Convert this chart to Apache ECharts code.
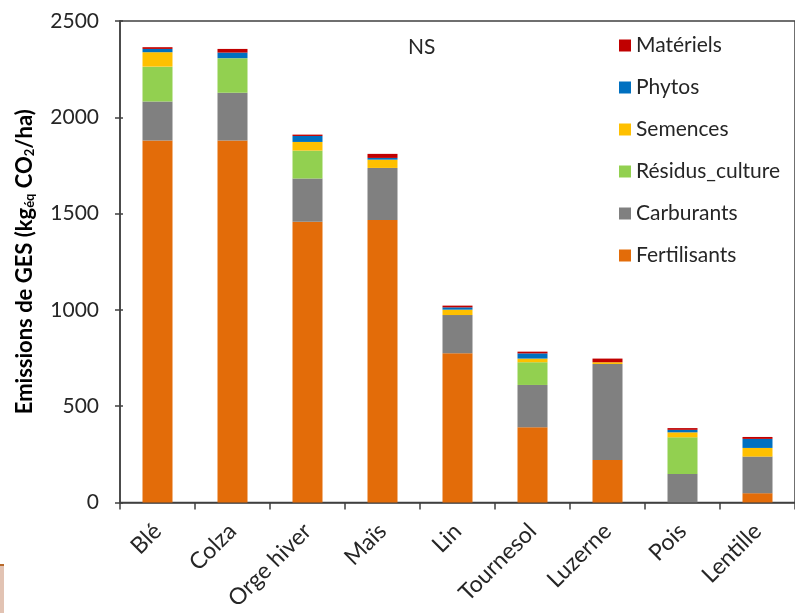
<!DOCTYPE html>
<html>
<head>
<meta charset="utf-8">
<script src="https://cdn.jsdelivr.net/npm/echarts@6/dist/echarts.min.js"></script>
<style>
html,body{margin:0;padding:0;background:#fff;}
#chart{width:795px;height:613px;}
</style>
</head>
<body>
<div id="chart"></div>
<script>
const categories = ['Blé', 'Colza', 'Orge hiver', 'Maïs', 'Lin', 'Tournesol', 'Luzerne', 'Pois', 'Lentille'];
const fertilisants = [1880, 1880, 1458, 1466, 775, 391, 220, 0, 48];
const carburants   = [202, 247, 224, 271, 198, 219, 499, 148, 190];
const residus      = [181, 180, 145, 0, 0, 118, 0, 190, 0];
const semences     = [75, 0, 45, 43, 28, 19, 9, 26, 45];
const phytos       = [17, 29, 31, 9, 12, 27, 0, 13, 47];
const materiels    = [9, 19, 7, 21, 9, 9, 19, 9, 10];
const yTicks = [0, 500, 1000, 1500, 2000, 2500];

const FONT = 'Lato, "Open Sans", sans-serif';
const TXT = '#262626';

const seriesDefs = [
  {name: 'Fertilisants', data: fertilisants, color: '#E36C09'},
  {name: 'Carburants', data: carburants, color: '#808080'},
  {name: 'Résidus_culture', data: residus, color: '#92D050'},
  {name: 'Semences', data: semences, color: '#FFC000'},
  {name: 'Phytos', data: phytos, color: '#0070C0'},
  {name: 'Matériels', data: materiels, color: '#C00000'}
];

const yMin = yTicks[0], yMax = yTicks[yTicks.length - 1], yStep = yTicks[1] - yTicks[0];

const chart = echarts.init(document.getElementById('chart'), null, {renderer: 'canvas'});
chart.setOption({
  animation: false,
  backgroundColor: '#fff',
  grid: {left: 120, top: 21, width: 679, height: 483, show: true, borderColor: '#404040', borderWidth: 1.5, backgroundColor: 'transparent'},
  legend: {
    orient: 'vertical', left: 619, top: 35, padding: 0, itemWidth: 12, itemHeight: 12, itemGap: 21,
    icon: 'rect', selectedMode: false,
    data: ['Matériels', 'Phytos', 'Semences', 'Résidus_culture', 'Carburants', 'Fertilisants'],
    textStyle: {fontFamily: FONT, fontSize: 21, color: TXT, lineHeight: 21}
  },
  graphic: [
    {type: 'text', left: 408, top: 37, style: {text: 'NS', font: '21px ' + FONT, fill: TXT}},
    {type: 'rect', shape: {x: 0, y: 564, width: 4, height: 49}, style: {fill: '#e2c3b3'}},
    {type: 'rect', shape: {x: 0, y: 564, width: 4, height: 2}, style: {fill: '#b86a2a'}}
  ],
  xAxis: {
    type: 'category', data: categories,
    axisLine: {lineStyle: {color: '#404040', width: 1.5}},
    axisTick: {show: true, length: 7, lineStyle: {color: '#404040', width: 1.5}},
    axisLabel: {interval: 0, rotate: 45, margin: 25, fontFamily: FONT, fontSize: 23, color: TXT}
  },
  yAxis: [{
    type: 'value', min: yMin, max: yMax, interval: yStep,
    splitLine: {show: false},
    axisLine: {show: true, lineStyle: {color: '#404040', width: 1.5}},
    axisTick: {show: true, length: 5, lineStyle: {color: '#404040', width: 1.5}},
    axisLabel: {margin: 21, fontFamily: FONT, fontSize: 21, color: TXT, formatter: v => String(v)},
    name: '{b|Emissions de GES (kg}{s|éq}{b| CO}{s|2}{b|/ha)}',
    nameLocation: 'middle', nameGap: 82,
    nameTextStyle: {
      rich: {
        b: {fontFamily: FONT, fontSize: 22, fontWeight: 'bold', color: '#000', lineHeight: 26},
        s: {fontFamily: FONT, fontSize: 13, fontWeight: 'bold', color: '#000', lineHeight: 26, padding: [10, 0, 0, 0]}
      }
    }
  }, {
    type: 'value', min: yMin, max: yMax, interval: yStep, position: 'left',
    splitLine: {show: false}, axisLabel: {show: false},
    axisLine: {show: false},
    axisTick: {show: true, inside: true, length: 3, lineStyle: {color: '#404040', width: 1.5}}
  }],
  series: seriesDefs.map(s => ({
    type: 'bar', name: s.name, stack: 'total', data: s.data, barWidth: 30,
    itemStyle: {color: s.color}
  }))
});
</script>
</body>
</html>
